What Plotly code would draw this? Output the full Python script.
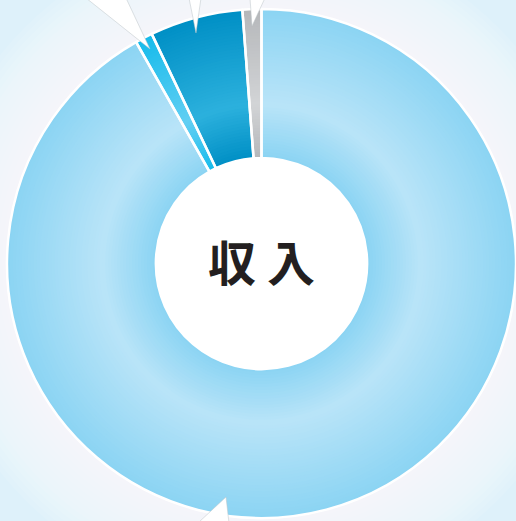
import plotly.graph_objects as go

# ---- data (counter-clockwise from 12 o'clock: gray, dark blue, cyan, then light blue) ----
labels = ["会費収入", "その他", "繰越金", "諸収入"]
values = [91.8, 1.2, 5.9, 1.1]
edge_colors = ["#8bd4f3", "#b5b7ba", "#008fc5", "#16bbeb"]
mid_colors = ["#b9e4f8", "#d2d4d6", "#2cb1dd", "#62cff3"]
center_text = "収 入"

# ---- layout geometry (pixels) ----
W, H = 516, 521
L, R, T, B = 7, 0, 9, 3
PW, PH = W - L - R, H - T - B
R_OUT = min(PW, PH) / 2
HOLE = 0.415
R_IN = R_OUT * HOLE
R_LIGHT = R_IN + 0.36 * (R_OUT - R_IN)   # radius of the lightest band
CX, CY = L + PW / 2, T + PH / 2


def hex2rgb(h):
    h = h.lstrip("#")
    return tuple(int(h[i:i + 2], 16) for i in (0, 2, 4))


def mix(c1, c2, t):
    a, b = hex2rgb(c1), hex2rgb(c2)
    return "rgb(%d,%d,%d)" % tuple(round(a[i] + (b[i] - a[i]) * t) for i in range(3))


def px2paper(x, y):
    return (x - L) / PW, 1 - (y - T) / PH


def circle_shape(r, color, layer="below"):
    a = px2paper(CX - r, CY - r)
    b = px2paper(CX + r, CY + r)
    return dict(type="circle", xref="paper", yref="paper",
                x0=a[0], y0=b[1], x1=b[0], y1=a[1],
                fillcolor=color, line=dict(width=0), layer=layer)


fig = go.Figure()

N = 50
for k in range(N):
    r_k = R_OUT - k * (R_OUT - R_IN) / N
    r_mid = r_k - 0.5 * (R_OUT - R_IN) / N
    if r_mid >= R_LIGHT:
        t = 1 - (r_mid - R_LIGHT) / (R_OUT - R_LIGHT)
    else:
        t = 1 - (R_LIGHT - r_mid) / (R_LIGHT - R_IN)
    t = max(0.0, min(1.0, t))
    f = r_k / R_OUT
    fig.add_trace(go.Pie(
        labels=labels, values=values, sort=False, direction="counterclockwise",
        rotation=0, hole=R_IN / r_k,
        domain=dict(x=[0.5 - 0.5 * f, 0.5 + 0.5 * f], y=[0.5 - 0.5 * f, 0.5 + 0.5 * f]),
        marker=dict(colors=[mix(e, m, t) for e, m in zip(edge_colors, mid_colors)],
                    line=dict(width=0)),
        textinfo="none", hoverinfo="skip", showlegend=False,
    ))

# white separators
fig.add_trace(go.Pie(
    labels=labels, values=values, sort=False, direction="counterclockwise",
    rotation=0, hole=HOLE, domain=dict(x=[0, 1], y=[0, 1]),
    marker=dict(colors=["rgba(0,0,0,0)"] * len(values), line=dict(color="white", width=2.5)),
    textinfo="none", hoverinfo="label+percent", showlegend=False,
))

# soft white glow behind the ring
shapes = []
for i in range(16):
    shapes.append(circle_shape(R_OUT + 80 - i * 5, "rgba(255,255,255,0.09)"))
shapes.append(circle_shape(R_IN, "white"))

# callout pointers (from labels outside the crop)
pointers = [
    [(86, -2), (126, -2), (150, 49)],
    [(189, -2), (201, -2), (196, 33)],
    [(250, -2), (265, -2), (252, 26)],
    [(198, 523), (226, 497), (229, 523)],
]
for tri in pointers:
    pts = [px2paper(x, y) for x, y in tri]
    path = "M %f %f L %f %f L %f %f Z" % (pts[0] + pts[1] + pts[2])
    shapes.append(dict(type="path", xref="paper", yref="paper", path=path,
                       fillcolor="white", line=dict(color="rgba(190,198,202,0.5)", width=1),
                       layer="above"))

fig.update_layout(
    width=W, height=H, autosize=False,
    margin=dict(l=L, r=R, t=T, b=B, pad=0),
    paper_bgcolor="#def1fa", plot_bgcolor="#def1fa",
    shapes=shapes,
    annotations=[dict(text=center_text, x=0.5, y=0.5, xref="paper", yref="paper",
                      showarrow=False, yshift=4,
                      font=dict(family="Noto Sans CJK JP", size=48, color="#231f20",
                                weight="bold"))],
)

fig.write_html("out.html", config={"displayModeBar": False},
               post_script="document.body.style.margin='0';document.body.style.overflow='hidden';")
